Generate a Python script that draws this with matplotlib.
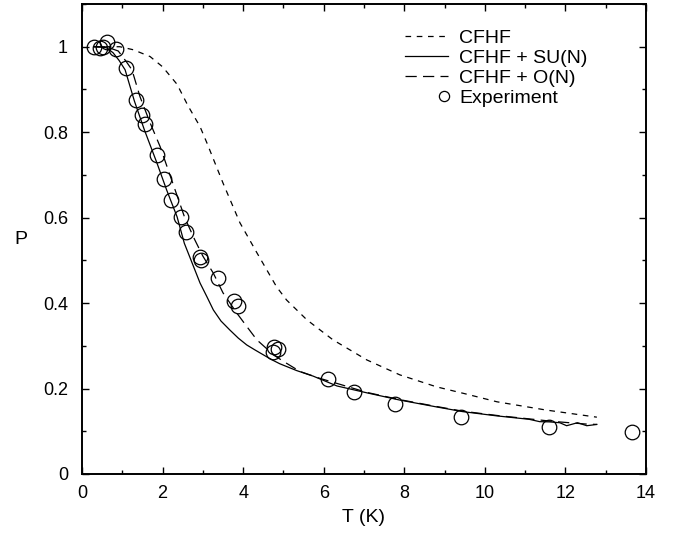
import numpy as np
import matplotlib
matplotlib.use('Agg')
import matplotlib.pyplot as plt
from matplotlib.ticker import MultipleLocator
from matplotlib.legend_handler import HandlerLine2D

plt.rcParams['font.family'] = ['Liberation Sans', 'DejaVu Sans']

# experiment
t_exp = [0.30, 0.45, 0.52, 0.62, 0.84, 1.09, 1.34, 1.50, 1.56, 1.85, 2.03, 2.21,
         2.45, 2.58, 2.93, 2.95, 3.37, 3.78, 3.88, 4.73, 4.77, 4.87, 6.11, 6.75,
         7.77, 9.40, 11.59, 13.65]
p_exp = [1.000, 0.997, 1.000, 1.012, 0.995, 0.950, 0.876, 0.840, 0.820, 0.746, 0.690, 0.642,
         0.602, 0.566, 0.508, 0.500, 0.458, 0.405, 0.394, 0.286, 0.297, 0.292, 0.222, 0.192,
         0.164, 0.133, 0.110, 0.098]

# CFHF
t_cfhf = [0.3, 0.94, 1.27, 1.69, 2.0, 2.36, 2.63, 2.93, 3.1, 3.5, 3.92, 4.34, 4.83,
          5.08, 5.58, 6.23, 7.07, 7.89, 8.8, 9.5, 10.3, 11.5, 12.78]
p_cfhf = [1.0, 1.0, 0.993, 0.977, 0.953, 0.912, 0.862, 0.813, 0.775, 0.681, 0.588, 0.518, 0.438,
          0.407, 0.361, 0.314, 0.267, 0.232, 0.204, 0.188, 0.169, 0.150, 0.133]

# CFHF + SU(N)
t_su = [0.3, 0.6, 0.77, 0.92, 1.07, 1.3, 1.55, 1.86, 2.1, 2.36, 2.54, 2.75, 2.93, 3.1,
        3.26, 3.45, 3.67, 3.88, 4.09, 4.3, 4.5, 4.7, 4.91, 5.33, 5.74, 6.33, 7.07,
        7.89, 8.8, 9.45, 10.3, 11.1, 11.36, 11.6, 11.86, 12.03, 12.3, 12.53, 12.78]
p_su = [1.0, 0.998, 0.986, 0.968, 0.946, 0.873, 0.805, 0.728, 0.665, 0.602, 0.54, 0.49, 0.447, 0.415,
        0.384, 0.358, 0.337, 0.318, 0.302, 0.29, 0.279, 0.268, 0.258, 0.242, 0.229, 0.206, 0.190,
        0.173, 0.157, 0.146, 0.136, 0.128, 0.1225, 0.122, 0.120, 0.113, 0.120, 0.113, 0.116]

# CFHF + O(N)
t_on = [0.3, 0.6, 0.9, 1.1, 1.24, 1.44, 1.69, 1.94, 2.2, 2.55, 2.8, 3.0, 3.26, 3.5,
        3.84, 4.1, 4.34, 4.6, 4.83, 5.08, 5.41, 5.9, 6.4, 7.07, 7.89, 8.8, 9.45,
        10.3, 11.1, 11.7, 12.1, 12.5, 12.78]
p_on = [1.0, 1.0, 0.99, 0.965, 0.946, 0.883, 0.822, 0.766, 0.695, 0.60, 0.548, 0.51, 0.47, 0.424,
        0.377, 0.344, 0.314, 0.292, 0.274, 0.259, 0.240, 0.224, 0.210, 0.191, 0.174, 0.158, 0.147,
        0.137, 0.129, 0.123, 0.120, 0.117, 0.116]


class MarkerAtEnd(HandlerLine2D):
    # single marker sits at the right end of the handle (middle of a 3-pt line)
    def get_xdata(self, legend, xdescent, ydescent, width, height, fontsize):
        xdata = np.array([-xdescent + width - 8.0, -xdescent + width + 2.0])
        return xdata, xdata


fig = plt.figure(figsize=(6.74, 5.34), dpi=100)
ax = fig.add_axes([82/674, 1 - 474/534, (646 - 82)/674, (474 - 4)/534])

ax.plot(t_cfhf, p_cfhf, color='black', lw=0.9, dashes=(4.5, 4.5), label='CFHF')
ax.plot(t_su, p_su, color='black', lw=0.9, label='CFHF + SU(N)')
ax.plot(t_on, p_on, color='black', lw=0.9, dashes=(9, 5), label='CFHF + O(N)')
exp_line, = ax.plot(t_exp, p_exp, 'o', ms=10.5, mfc='none', mec='black', mew=0.9,
                    label='Experiment')

ax.set_xlim(0, 14)
ax.set_ylim(0, 1.1)
ax.xaxis.set_major_locator(MultipleLocator(2))
ax.xaxis.set_minor_locator(MultipleLocator(1))
ax.yaxis.set_major_locator(MultipleLocator(0.2))
ax.yaxis.set_minor_locator(MultipleLocator(0.1))
ax.yaxis.set_major_formatter(plt.FuncFormatter(lambda v, p: f'{v:g}'))
ax.tick_params(which='both', direction='in', top=True, right=True, labelsize=13, width=1)
ax.tick_params(which='major', length=5)
ax.tick_params(which='minor', length=3)
ax.tick_params(axis='x', pad=8)
ax.tick_params(axis='y', pad=10)
for s in ax.spines.values():
    s.set_linewidth(1.4)

ax.set_xlabel('T (K)', fontsize=14, labelpad=5)
ax.set_ylabel('P', fontsize=14, rotation=0, labelpad=16, va='center')

leg = ax.legend(loc='upper left', bbox_to_anchor=((405 - 82)/564, (474 - 29)/470),
                frameon=False, fontsize=14, borderpad=0, borderaxespad=0,
                handlelength=2.2, handletextpad=0.6, labelspacing=0.13,
                numpoints=1, markerscale=0.7,
                handler_map={exp_line: MarkerAtEnd()})

fig.savefig('out.png', dpi=100)
